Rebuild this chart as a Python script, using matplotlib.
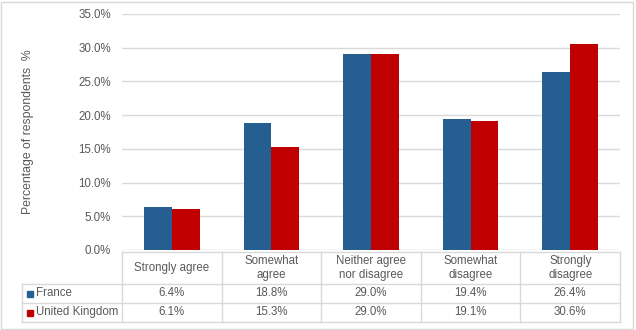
import matplotlib
matplotlib.use("Agg")
import numpy as np
import matplotlib.pyplot as plt
from matplotlib.patches import Rectangle

categories = ["Strongly agree", "Somewhat\nagree", "Neither agree\nnor disagree",
              "Somewhat\ndisagree", "Strongly\ndisagree"]
france = [6.4, 18.8, 29.0, 19.4, 26.4]
uk = [6.1, 15.3, 29.0, 19.1, 30.6]
series = [("France", france, "#255E91"), ("United Kingdom", uk, "#C00000")]

plt.rcParams["font.family"] = ["Liberation Sans", "DejaVu Sans"]
text_col = "#595959"
line_col = "#D9D9D9"
fs = 8.3

W, H = 636, 330
fig = plt.figure(figsize=(W / 100, H / 100), dpi=100)
fig.patches.append(Rectangle((1 / W, 1 / H), (W - 4) / W, (H - 3) / H,
                             transform=fig.transFigure, fill=False,
                             edgecolor=line_col, lw=1))

# plot area in pixels: left 122, right 620, top 14, bottom 250
ax = fig.add_axes([122 / W, (H - 250) / H, (620 - 122) / W, (250 - 14) / H])

x = np.arange(len(categories))
w = 0.28
for i, (name, vals, col) in enumerate(series):
    ax.bar(x + (i - 0.5) * w, np.array(vals) / 100, w, color=col, zorder=3)

ax.set_xlim(-0.5, len(categories) - 0.5)
ax.set_ylim(0, 0.35)
ticks = np.arange(0, 0.351, 0.05)
ax.set_yticks(ticks)
ax.set_yticklabels([f"{t * 100:.1f}%" for t in ticks])
ax.yaxis.grid(True, color=line_col, lw=1, zorder=0)
ax.tick_params(axis="y", length=0, pad=8, labelsize=fs, labelcolor=text_col)
ax.set_xticks([])
for s in ax.spines.values():
    s.set_visible(False)
ax.set_ylabel("Percentage of respondents  %", fontsize=fs + 0.5, color=text_col)
ax.yaxis.set_label_coords(-(122 - 34) / 498, 0.5)


# data table underneath, positioned in pixels
def fy(p):
    return (H - p) / H


def fx(p):
    return p / W


def line(x0, x1, y0, y1):
    fig.add_artist(plt.Line2D([fx(x0), fx(x1)], [fy(y0), fy(y1)],
                              color=line_col, lw=1, transform=fig.transFigure))


cols = np.linspace(122, 620, len(categories) + 1)
rows = [252, 284, 303, 322]
line(122, 620, rows[0], rows[0])
for r in rows[1:]:
    line(22, 620, r, r)
for c in cols:
    line(c, c, rows[0], rows[-1])
line(22, 22, rows[1], rows[-1])

for j, cat in enumerate(categories):
    cx = fx((cols[j] + cols[j + 1]) / 2)
    fig.text(cx, fy((rows[0] + rows[1]) / 2), cat, ha="center", va="center",
             fontsize=fs, color=text_col, linespacing=1.2)
    for i, (name, vals, col) in enumerate(series):
        fig.text(cx, fy((rows[i + 1] + rows[i + 2]) / 2) + 0.002,
                 f"{vals[j]:.1f}%", ha="center", va="center",
                 fontsize=fs, color=text_col)

for i, (name, vals, col) in enumerate(series):
    yc = (rows[i + 1] + rows[i + 2]) / 2
    fig.patches.append(Rectangle((fx(27), fy(yc + 3)), 6 / W, 6 / H,
                                 transform=fig.transFigure, color=col))
    fig.text(fx(36), fy(yc) + 0.002, name, ha="left", va="center",
             fontsize=fs, color=text_col)

fig.savefig("out.png", dpi=100)
